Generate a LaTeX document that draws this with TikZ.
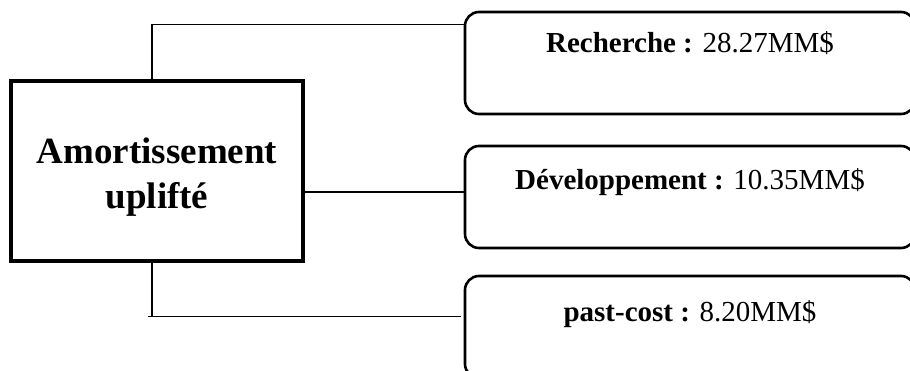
\documentclass[tikz,border=0pt]{standalone}
\usepackage{fontspec}
\setmainfont{Liberation Serif}
\begin{document}
\begin{tikzpicture}[x=1pt,y=-1pt,
  mainbox/.style={draw,line width=4pt,minimum width=292pt,minimum height=180pt,inner sep=0pt},
  maintext/.style={align=center,font=\fontsize{37}{44.4}\selectfont\bfseries,inner sep=0pt},
  itembox/.style={draw,line width=2.6pt,rounded corners=14pt,minimum width=450pt,inner ysep=0pt,inner xsep=0pt,font=\fontsize{29}{34}\selectfont},
  conn/.style={line width=1.5pt}]
\useasboundingbox (0,0) rectangle (910,371);
\clip (0,0) rectangle (910,371);
\node[mainbox] (main) at (157,171) {};
\node[maintext] (maintxt) at ([yshift=-6pt]main.center) {Amortissement\\uplifté};
\node[itembox,text height=41pt,text depth=61pt] (r1) at (690,63) {\textbf{Recherche :} 28.27MM\$};
\node[itembox,text height=44pt,text depth=58pt] (r2) at (690,197) {\textbf{Développement :} 10.35MM\$};
\node[itembox,text height=45pt,text depth=57pt] (r3) at (690,327) {\textbf{past-cost :} 8.20MM\$};
% connectors
\coordinate (t1) at ([xshift=-5pt]main.north);
\coordinate (t1e) at ([yshift=-14pt]r1.north west);
\draw[conn] (t1) |- (t1e);
\coordinate (m1) at ([yshift=-21pt]main.east);
\draw[conn] (m1) -- (m1 -| r2.west);
\coordinate (b1) at ([xshift=-5pt]main.south);
\coordinate (b2) at ([xshift=-3pt,yshift=-42pt]r3.north west);
\draw[conn] (b1) |- (b2);
\draw[conn] ([xshift=-4pt]b1 |- b2) -- (b1 |- b2);
\end{tikzpicture}
\end{document}
